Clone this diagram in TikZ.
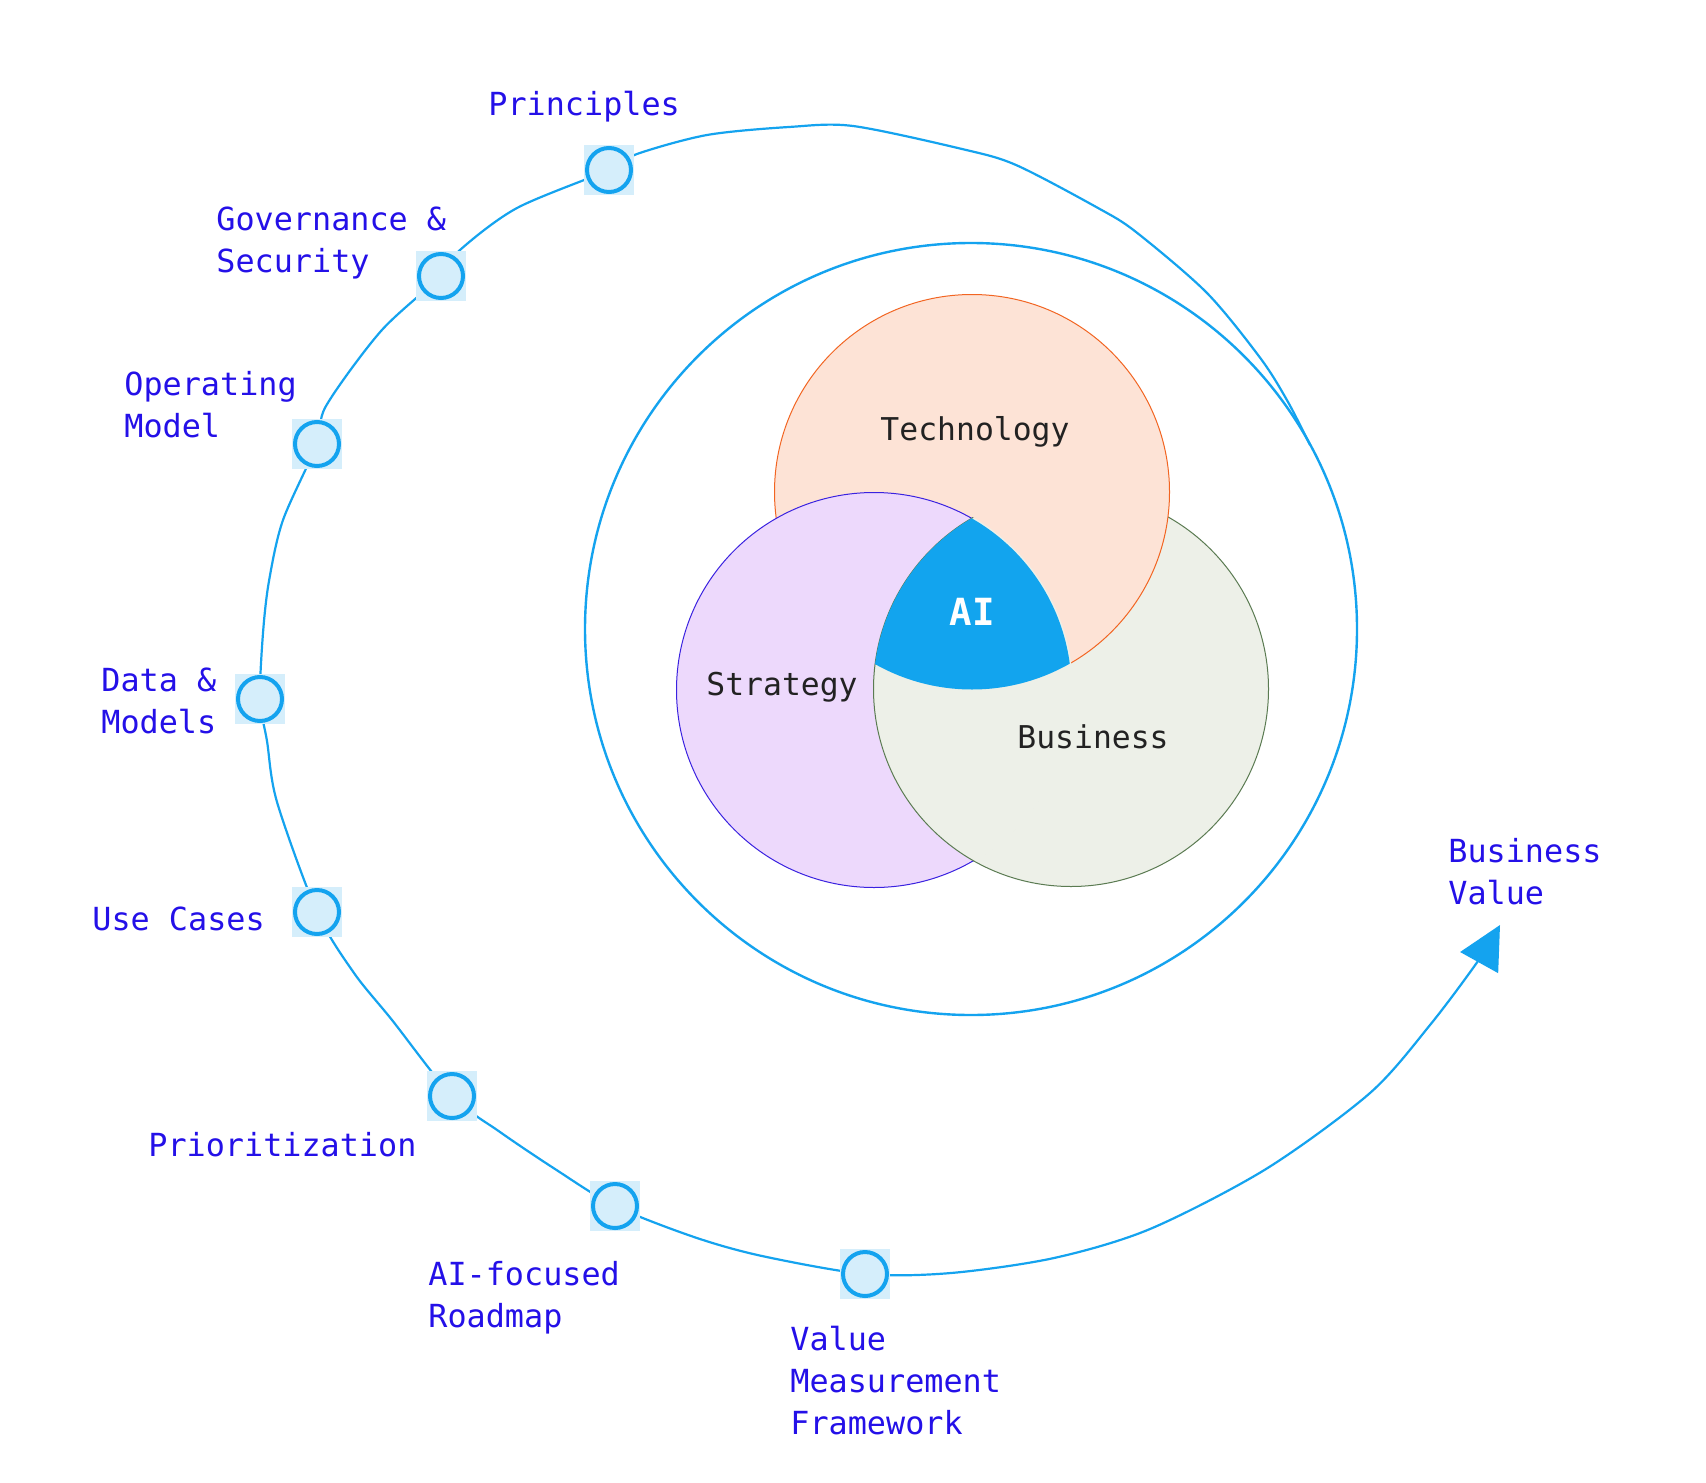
\documentclass[tikz,border=0pt]{standalone}
\usepackage{fontspec}
\setmonofont{DejaVu Sans Mono}
\usetikzlibrary{arrows.meta}
\definecolor{lineblue}{HTML}{14A3EF}
\definecolor{paleblue}{HTML}{D5EEFB}
\definecolor{labelblue}{HTML}{2410E8}
\definecolor{techfill}{HTML}{FDE3D6}
\definecolor{techdraw}{HTML}{F26522}
\definecolor{stratfill}{HTML}{EDD9FC}
\definecolor{stratdraw}{HTML}{3A22E0}
\definecolor{busfill}{HTML}{EDF0E8}
\definecolor{busdraw}{HTML}{5B7B52}
\definecolor{aiblue}{HTML}{12A4EE}
\definecolor{darktext}{HTML}{222222}
\begin{document}
\begin{tikzpicture}[x=0.5pt,y=-0.5pt,
  hl/.style={rectangle, fill=paleblue, minimum size=25pt, inner sep=0pt},
  stepcirc/.style={circle, draw=lineblue, line width=2pt, fill=paleblue, minimum size=22pt, inner sep=0pt},
  lbl/.style={font=\ttfamily\fontsize{15.9pt}{21pt}\selectfont, text=labelblue, anchor=base west, align=left, inner sep=0pt},
  vlbl/.style={font=\ttfamily\fontsize{15.7pt}{21pt}\selectfont, text=darktext, anchor=base, inner sep=0pt},
  venn/.style={line width=0.5pt}
]
\useasboundingbox[fill=white] (0,0) rectangle (1706,1482);

% outer ring
\draw[lineblue, line width=1.2pt] (971,629) circle[radius=386];

% Venn
\path[venn, fill=busfill, draw=busdraw] (1071,689) circle[radius=197.5];
\path[venn, fill=techfill, draw=techdraw] (972,492) circle[radius=197.5];
\path[venn, fill=stratfill, draw=stratdraw] (874,690) circle[radius=197.5];
\begin{scope}
  \clip (874,690) circle[radius=199];
  \path[venn, fill=busfill, draw=busdraw] (1071,689) circle[radius=197.5];
\end{scope}
\begin{scope}
  \clip (874,690) circle[radius=197.5];
  \clip (972,492) circle[radius=197.5];
  \clip (1071,689) circle[radius=197.5];
  \fill[aiblue] (600,300) rectangle (1300,900);
\end{scope}

\node[vlbl] (tech) at (975,440) {Technology};
\node[vlbl] (strat) at (782,695) {Strategy};
\node[vlbl] (bus) at (1093,748) {Business};
\node[vlbl, font=\ttfamily\bfseries\fontsize{18.7pt}{22pt}\selectfont, text=white] (ai) at (972,625) {AI};

% step positions
\coordinate (p1) at (609,170);
\coordinate (p2) at (441,276);
\coordinate (p3) at (317,444);
\coordinate (p4) at (260,699);
\coordinate (p5) at (317,912);
\coordinate (p6) at (452,1096);
\coordinate (p7) at (615,1206);
\coordinate (p8) at (865,1274);
\coordinate (bvend) at (1500,925);

% spiral path
\draw[lineblue, line width=1.1pt, -{Triangle[length=21.5pt,width=21.5pt]}]
  plot[smooth, tension=0.5] coordinates {
    (1310,445) (1288,402) (1261,359) (1207,293) (1136,232) (1098,208)
    (1016,165) (962,149) (853,126) (789,127) (707,135) (637,154)
    (p1) (517,208) (460,250)
    (p2) (381,331) (326,406)
    (p3) (283,520) (269,581) (263,633)
    (p4) (267,741) (277,802)
    (p5) (354,973) (392,1020)
    (p6) (500,1132) (555,1169)
    (p7) (694,1237) (762,1256)
    (p8) (951,1273) (1054,1258) (1150,1229) (1266,1169) (1370,1093)
    (1430,1025) (1478,961) (bvend)};

% step nodes
\foreach \i in {1,...,8}{
  \node[hl] (s\i) at (p\i) {};
  \node[stepcirc] (n\i) at (p\i) {};
}

% labels (anchor = baseline of last line)
\node[lbl] (l1) at (488,116) {Principles};
\node[lbl] (l2) at (216,272) {Governance \&\\Security};
\node[lbl] (l3) at (124,437) {Operating\\Model};
\node[lbl] (l4) at (101,733) {Data \&\\Models};
\node[lbl] (l5) at (92,930) {Use Cases};
\node[lbl] (l6) at (148,1156) {Prioritization};
\node[lbl] (l7) at (428,1327) {AI-focused\\Roadmap};
\node[lbl] (l8) at (790,1434) {Value\\Measurement\\Framework};
\node[lbl] (l9) at (1448,904) {Business\\Value};
\end{tikzpicture}
\end{document}
